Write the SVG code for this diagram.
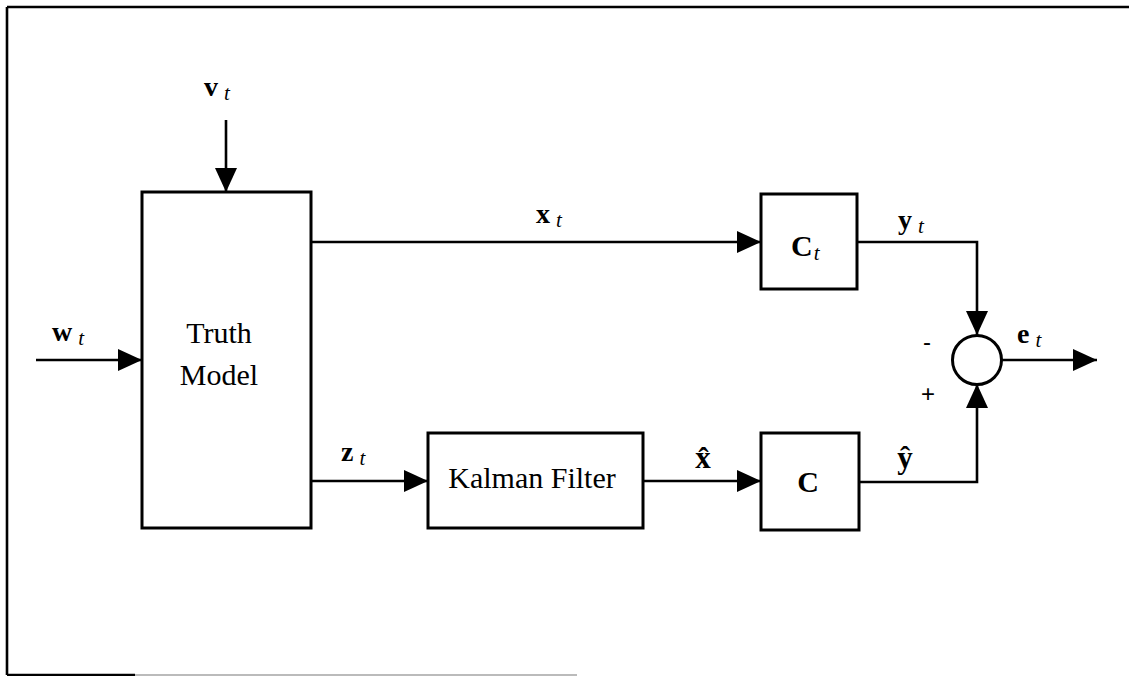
<svg xmlns="http://www.w3.org/2000/svg" width="1129" height="676" viewBox="0 0 1129 676">
<style>
.box{fill:#fff;stroke:#000;stroke-width:3}
.ln{fill:none;stroke:#000;stroke-width:2.6}
.frame{fill:none;stroke:#000;stroke-width:2.6}
.t{font-family:"Liberation Serif","Times New Roman",serif;font-size:30px;fill:#000}
.v{font-family:"Liberation Serif","Times New Roman",serif;font-size:28px;font-weight:bold;fill:#000}
.s{font-family:"Liberation Serif","Times New Roman",serif;font-size:21px;font-style:italic;font-weight:normal;fill:#000}
.hv{font-family:"Liberation Serif","Times New Roman",serif;font-size:31px;font-weight:bold;fill:#000}
.sg{font-family:"Liberation Sans",Arial,sans-serif;font-size:24px;fill:#000}
</style>
<defs>
<marker id="ah" viewBox="0 0 24 22" refX="24" refY="11" markerWidth="24" markerHeight="22" markerUnits="userSpaceOnUse" orient="auto">
<path d="M0,0 L24,11 L0,22 Z" fill="#000"/>
</marker>
</defs>
<rect width="1129" height="676" fill="#fff"/>
<g id="frame">
<path class="frame" d="M7,7 H1129 M7,7 V675 M7,675 H135"/>
<path d="M135,675 H577" stroke="#bbb" stroke-width="2" fill="none"/>
</g>
<g id="connectors">
<path class="ln" d="M226,120 V192" marker-end="url(#ah)"/>
<path class="ln" d="M36,360 H142" marker-end="url(#ah)"/>
<path class="ln" d="M311,242 H761" marker-end="url(#ah)"/>
<path class="ln" d="M311,481 H428" marker-end="url(#ah)"/>
<path class="ln" d="M643,481 H761" marker-end="url(#ah)"/>
<path class="ln" d="M857,242 H977 V335" marker-end="url(#ah)"/>
<path class="ln" d="M859,482 H977 V384" marker-end="url(#ah)"/>
<path class="ln" d="M1001,360 H1097" marker-end="url(#ah)"/>
</g>
<g id="truth-model">
<rect class="box" x="142" y="192" width="169" height="336"/>
<text class="t" x="219" y="343" text-anchor="middle">Truth</text>
<text class="t" x="219" y="385" text-anchor="middle">Model</text>
</g>
<g id="kalman-filter">
<rect class="box" x="428" y="433" width="215" height="95"/>
<text class="t" x="532" y="488" text-anchor="middle">Kalman Filter</text>
</g>
<g id="Ct">
<rect class="box" x="761" y="194" width="96" height="95"/>
<text x="791" y="256"><tspan class="t" font-weight="bold" font-size="31">C</tspan><tspan class="s" dx="1" dy="4">t</tspan></text>
</g>
<g id="C">
<rect class="box" x="761" y="433" width="98" height="97"/>
<text class="t" x="808" y="492" text-anchor="middle" font-weight="bold" font-size="31">C</text>
</g>
<g id="sum">
<circle cx="977" cy="360" r="24.5" fill="#fff" stroke="#000" stroke-width="3"/>
<text class="sg" x="927" y="350" text-anchor="middle">-</text>
<text class="sg" x="928" y="402" text-anchor="middle">+</text>
</g>
<g id="labels">
<text x="204" y="96"><tspan class="v">v</tspan><tspan class="s" dx="6" dy="4">t</tspan></text>
<text x="52" y="341"><tspan class="v">w</tspan><tspan class="s" dx="6" dy="4">t</tspan></text>
<text x="536" y="223"><tspan class="v">x</tspan><tspan class="s" dx="6" dy="4">t</tspan></text>
<text x="341" y="461"><tspan class="v">z</tspan><tspan class="s" dx="6" dy="4">t</tspan></text>
<text x="898" y="229"><tspan class="v">y</tspan><tspan class="s" dx="6" dy="4">t</tspan></text>
<text x="1017" y="343"><tspan class="v">e</tspan><tspan class="s" dx="6" dy="4">t</tspan></text>
<text class="hv" x="703" y="468" text-anchor="middle">x̂</text>
<text class="hv" x="905" y="468" text-anchor="middle">ŷ</text>
</g>
</svg>
